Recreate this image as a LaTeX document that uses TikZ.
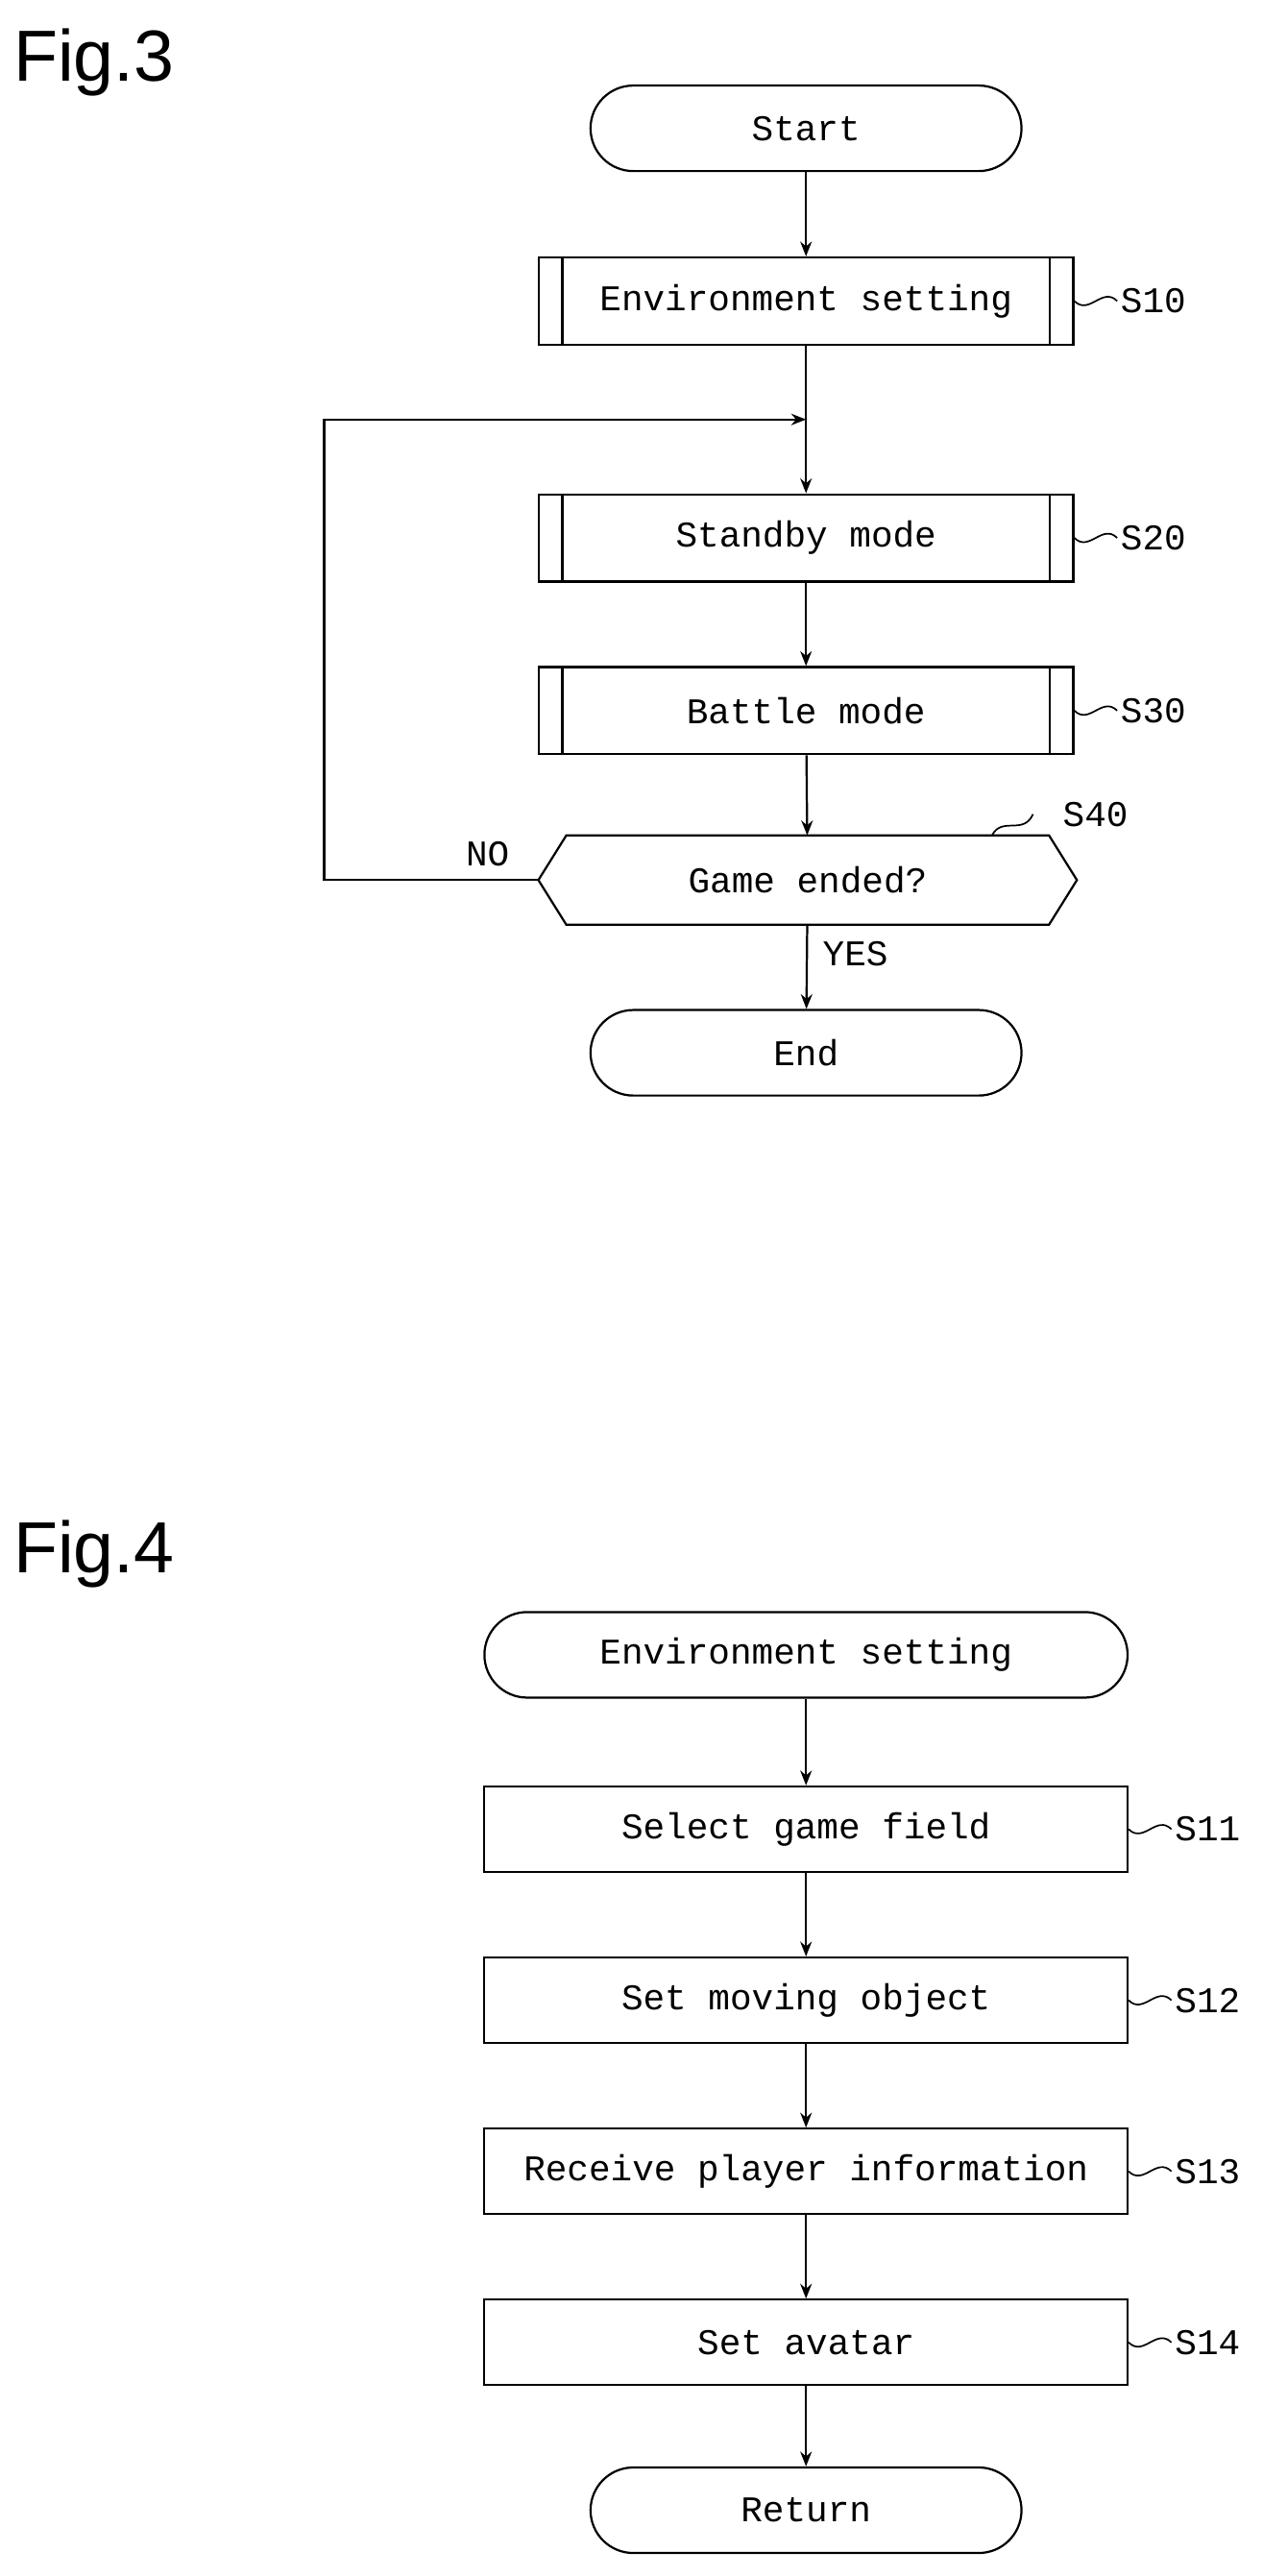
\documentclass[tikz,border=0pt]{standalone}
\usepackage{fontspec}
\setmainfont{Liberation Sans}
\newfontfamily\boxfont{Liberation Mono}
\usetikzlibrary{calc,arrows.meta}
\begin{document}
\begin{tikzpicture}[x=1pt,y=-1pt,
  every node/.style={font=\boxfont\fontsize{22}{24}\selectfont},
  term/.style={draw,line width=1.3pt,rounded corners=26pt,minimum width=262pt,minimum height=52pt,inner sep=0},
  proc/.style={draw,line width=1.3pt,minimum width=391pt,minimum height=52pt,inner sep=0},
  pre/.style={draw,line width=1.3pt,minimum width=325pt,minimum height=53pt,inner sep=0},
  hex/.style={minimum width=327pt,minimum height=54pt,inner sep=0},
  lab/.style={anchor=west,inner sep=0},
  arr/.style={line width=1.3pt,-{Stealth[length=9pt,width=7pt]}},
  ln/.style={line width=1.3pt},
  fig/.style={font=\fontsize{44}{48}\selectfont,anchor=west,inner sep=0}]
\useasboundingbox (0,0) rectangle (782,1566);
\node[fig] (f3) at (8,38) {Fig.3};
\node[term] (start) at (490,78) {Start};
\node[pre] (s10) at (490,183) {Environment setting};
\node[pre] (s20) at (490,327) {Standby mode};
\node[pre] (s30) at (490,432) {Battle mode};
\node[hex] (s40) at (491,535) {Game ended?};
\node[term] (end) at (490,640) {End};
\foreach \n in {s10,s20,s30}{
  \draw[ln] ([xshift=15pt]\n.north west) -- ([xshift=15pt]\n.south west);
  \draw[ln] ([xshift=-15pt]\n.north east) -- ([xshift=-15pt]\n.south east);}
\draw[ln] (s40.west) -- ([xshift=17pt]s40.north west) -- ([xshift=-17pt]s40.north east) -- (s40.east) -- ([xshift=-17pt]s40.south east) -- ([xshift=17pt]s40.south west) -- cycle;
\coordinate (j) at (490,255);
\coordinate (lb) at (197,535);
\coordinate (lt) at (197,255);
\draw[arr] (start) -- (s10);
\draw[ln] (s10) -- (j);
\draw[arr] (j) -- (s20);
\draw[arr] (s20) -- (s30);
\draw[arr] (s30) -- (s40);
\draw[arr] (s40) -- (end);
\draw[arr] (s40.west) -- (lb) -- (lt) -- (j);
\node[lab] (no) at (283,519) {NO};
\node[lab] (yes) at (500,580) {YES};
\foreach \n/\t in {s10/S10,s20/S20,s30/S30}{
  \coordinate (w\n) at ([xshift=26pt]\n.east);
  \draw[line width=1pt] (\n.east) .. controls ([shift={(9pt,-9pt)}]\n.east) and ([shift={(17pt,9pt)}]\n.east) .. (w\n);
  \node[lab] (l\n) at ([xshift=2pt]w\n) {\t};}
\coordinate (a40) at (603,508);
\coordinate (b40) at (628,495);
\draw[line width=1pt] (a40) .. controls (609,496) and (622,508) .. (b40);
\node[lab] (l40) at (646,495) {S40};

\node[fig] (f4) at (8,945) {Fig.4};
\node[term,minimum width=391pt] (env) at (490,1006) {Environment setting};
\node[proc] (s11) at (490,1112) {Select game field};
\node[proc] (s12) at (490,1216) {Set moving object};
\node[proc] (s13) at (490,1320) {Receive player information};
\node[proc] (s14) at (490,1424) {Set avatar};
\node[term] (ret) at (490,1526) {Return};
\draw[arr] (env) -- (s11);
\draw[arr] (s11) -- (s12);
\draw[arr] (s12) -- (s13);
\draw[arr] (s13) -- (s14);
\draw[arr] (s14) -- (ret);
\foreach \n/\t in {s11/S11,s12/S12,s13/S13,s14/S14}{
  \coordinate (w\n) at ([xshift=26pt]\n.east);
  \draw[line width=1pt] (\n.east) .. controls ([shift={(9pt,-9pt)}]\n.east) and ([shift={(17pt,9pt)}]\n.east) .. (w\n);
  \node[lab] (l\n) at ([xshift=2pt]w\n) {\t};}
\end{tikzpicture}
\end{document}
